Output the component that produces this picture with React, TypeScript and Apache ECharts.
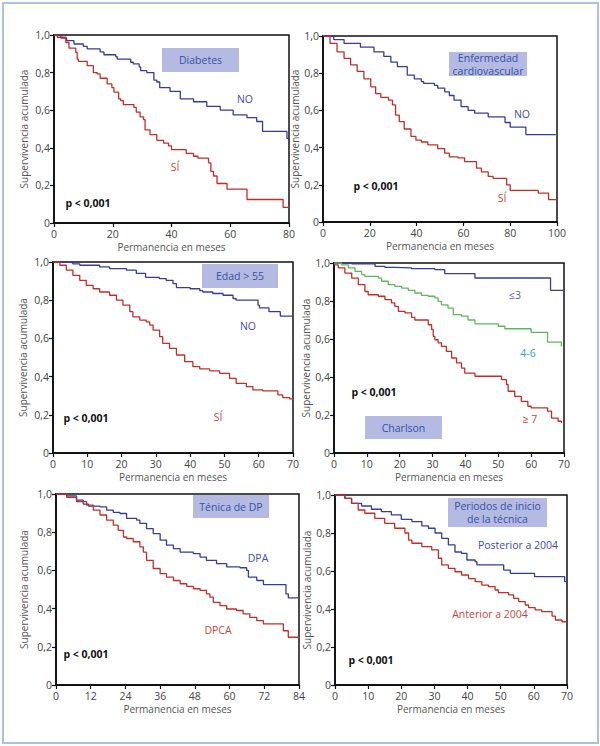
import React, { useEffect, useRef } from "react";
import * as echarts from "echarts";

// ---------- Data (Kaplan-Meier step curves) ----------
const diabNoT = [0, 2.3, 4.3, 6.8, 10, 11.3, 15.7, 17, 21, 21.5, 26.1, 27, 29, 29.5, 31.6, 34, 35, 36, 39.5, 43, 47.5, 52, 56.6, 61, 65.7, 69, 71, 79.3, 80];
const diabNoS = [1, 0.984, 0.97, 0.952, 0.94, 0.926, 0.91, 0.895, 0.885, 0.872, 0.855, 0.846, 0.83, 0.81, 0.8, 0.76, 0.75, 0.72, 0.7, 0.66, 0.645, 0.62, 0.6, 0.575, 0.56, 0.54, 0.487, 0.45, 0.45];
const diabSiT = [0, 1.1, 4, 5.1, 7.4, 7.9, 8.3, 11.3, 13.4, 14.7, 15.7, 18.1, 19.7, 20.4, 22, 22.7, 23.6, 27.2, 28, 29.3, 30.5, 31, 32.7, 35, 37.3, 39, 40, 45, 47.5, 49, 52.6, 53.4, 54.3, 55.5, 58.9, 65.7, 78, 80];
const diabSiS = [1, 0.988, 0.96, 0.93, 0.908, 0.872, 0.86, 0.837, 0.8, 0.793, 0.77, 0.74, 0.72, 0.696, 0.66, 0.651, 0.63, 0.615, 0.59, 0.565, 0.55, 0.495, 0.47, 0.44, 0.425, 0.41, 0.39, 0.37, 0.355, 0.345, 0.32, 0.275, 0.25, 0.21, 0.18, 0.125, 0.083, 0.083];

const cardNoT = [0, 4.6, 9, 16, 21.8, 26, 29, 31.8, 36, 39, 42, 43, 47.6, 49, 52, 54, 56, 59, 62, 64.8, 70.6, 77.8, 80, 86.7, 99.5];
const cardNoS = [1, 0.98, 0.96, 0.94, 0.915, 0.89, 0.86, 0.835, 0.79, 0.77, 0.755, 0.745, 0.735, 0.72, 0.7, 0.68, 0.655, 0.62, 0.6, 0.585, 0.565, 0.535, 0.51, 0.47, 0.47];
const cardSiT = [0, 3, 6, 9, 11.8, 14.6, 17.5, 20.4, 22.5, 24.7, 28, 29.7, 31, 32.6, 34.7, 37.6, 39.7, 42, 44.8, 49, 52, 54, 57.7, 60.5, 65.6, 67.7, 70.6, 72.7, 78.5, 80, 92, 96.4, 99.5];
const cardSiS = [1, 0.96, 0.915, 0.88, 0.845, 0.81, 0.77, 0.727, 0.69, 0.67, 0.655, 0.63, 0.575, 0.54, 0.5, 0.46, 0.44, 0.43, 0.415, 0.395, 0.37, 0.35, 0.345, 0.325, 0.29, 0.27, 0.245, 0.235, 0.2, 0.17, 0.155, 0.12, 0.12];

const edadNoT = [0, 3.9, 5.8, 7.8, 13.6, 16.5, 21.4, 24.3, 27, 31, 33, 35, 36, 40, 42.8, 43.7, 46.6, 49.6, 52.5, 53.4, 59.8, 60.2, 63, 66.3, 70];
const edadNoS = [1, 0.997, 0.99, 0.983, 0.974, 0.965, 0.957, 0.94, 0.92, 0.913, 0.904, 0.887, 0.866, 0.86, 0.85, 0.843, 0.835, 0.826, 0.809, 0.8, 0.774, 0.76, 0.74, 0.717, 0.717];
const edadSiT = [0, 2, 3.9, 5.8, 7.8, 9.7, 11.7, 13.6, 16.5, 18.5, 20.4, 22.4, 23.3, 25.3, 27.2, 28.2, 29.2, 31.1, 32, 34, 36, 38.4, 40.8, 42.8, 45.7, 48.6, 51.5, 53.4, 56.4, 58.3, 61.2, 65.6, 67, 69, 70];
const edadSiS = [1, 0.983, 0.957, 0.93, 0.904, 0.878, 0.86, 0.843, 0.826, 0.8, 0.774, 0.74, 0.713, 0.696, 0.687, 0.67, 0.643, 0.609, 0.574, 0.548, 0.513, 0.478, 0.452, 0.44, 0.43, 0.417, 0.391, 0.365, 0.348, 0.33, 0.325, 0.304, 0.29, 0.283, 0.275];

const charl3T = [0, 5.4, 12.5, 15.5, 18.5, 23.6, 30.7, 33.7, 42.9, 65.9, 69.7];
const charl3S = [1, 0.995, 0.982, 0.977, 0.974, 0.97, 0.965, 0.944, 0.921, 0.856, 0.856];
const charl46T = [0, 2.3, 4.4, 6.4, 8.4, 9.4, 13.5, 14.5, 16.5, 18.5, 20.6, 22.6, 24.6, 26.6, 28.7, 30.7, 31.7, 32.7, 34.7, 36.3, 38.8, 40.8, 42.9, 50, 52, 60, 65, 69.2];
const charl46S = [1, 0.99, 0.974, 0.956, 0.939, 0.93, 0.92, 0.904, 0.886, 0.877, 0.868, 0.856, 0.842, 0.83, 0.825, 0.816, 0.798, 0.78, 0.763, 0.728, 0.72, 0.7, 0.68, 0.667, 0.654, 0.635, 0.584, 0.56];
const charl7T = [0, 1.3, 3.3, 5.4, 7.4, 9.4, 10.4, 13.5, 15.5, 17.5, 18.5, 19.6, 21.6, 23.6, 24.6, 28.7, 29.7, 30.2, 30.7, 31.7, 32.7, 34.2, 35.8, 37.3, 38.8, 39.8, 42.9, 51, 52.5, 53, 55, 57, 59, 60, 65, 66.2, 68.2, 69.2];
const charl7S = [0.99, 0.974, 0.947, 0.92, 0.886, 0.85, 0.833, 0.825, 0.807, 0.79, 0.772, 0.745, 0.737, 0.714, 0.7, 0.675, 0.65, 0.614, 0.596, 0.58, 0.561, 0.535, 0.5, 0.474, 0.447, 0.42, 0.404, 0.386, 0.36, 0.325, 0.298, 0.272, 0.246, 0.237, 0.22, 0.184, 0.167, 0.158];

const dpaT = [0, 3.7, 7.1, 9.4, 11.2, 15.2, 17.5, 19.8, 22.1, 24.4, 27.9, 29, 31.3, 33.6, 36, 38.2, 40.6, 42.9, 47.5, 49.8, 52, 55.5, 59, 63.6, 65.9, 66.5, 69.4, 71.7, 79.5, 80.3, 84];
const dpaS = [1, 0.99, 0.968, 0.947, 0.937, 0.933, 0.916, 0.904, 0.898, 0.872, 0.863, 0.846, 0.819, 0.793, 0.758, 0.732, 0.714, 0.696, 0.688, 0.67, 0.653, 0.635, 0.618, 0.614, 0.6, 0.565, 0.547, 0.526, 0.477, 0.456, 0.456];
const dpcaT = [0, 3.7, 7.1, 10.6, 12.9, 15.2, 17.5, 19.8, 21.5, 23.3, 24.4, 26.7, 29, 30.2, 31.3, 33.6, 36, 38.2, 40.6, 42.9, 45.2, 47.5, 49.8, 52, 53.2, 54.4, 56.7, 59, 62.4, 64.7, 67, 69.4, 71.7, 78.6, 80.3, 84];
const dpcaS = [1, 0.983, 0.96, 0.942, 0.916, 0.89, 0.863, 0.837, 0.81, 0.775, 0.767, 0.75, 0.723, 0.696, 0.653, 0.61, 0.583, 0.565, 0.547, 0.53, 0.516, 0.504, 0.495, 0.477, 0.46, 0.433, 0.416, 0.398, 0.39, 0.372, 0.354, 0.337, 0.32, 0.284, 0.25, 0.25];

const postT = [0, 3, 5, 8, 11, 14, 17, 20, 23.2, 26.2, 28.2, 30.2, 32.2, 34.2, 36.2, 38.2, 39.8, 42.3, 42.8, 50.9, 52.9, 60.2, 69.3, 70];
const postS = [1, 0.982, 0.956, 0.942, 0.925, 0.912, 0.895, 0.872, 0.86, 0.837, 0.825, 0.8, 0.772, 0.737, 0.7, 0.693, 0.658, 0.649, 0.632, 0.605, 0.588, 0.57, 0.544, 0.544];
const antT = [0, 3, 5, 7, 9, 12, 15, 18, 21.1, 22.2, 23.2, 26.2, 29.2, 31.2, 32.2, 34.2, 36.2, 38.2, 40.3, 42.3, 44.3, 46.3, 48.3, 49.3, 52.4, 53.9, 55.4, 57.4, 58.4, 60.4, 62.4, 65.5, 66.5, 68.5, 70];
const antS = [1, 0.982, 0.956, 0.921, 0.904, 0.877, 0.851, 0.825, 0.8, 0.763, 0.746, 0.728, 0.711, 0.667, 0.632, 0.614, 0.596, 0.579, 0.56, 0.544, 0.526, 0.518, 0.5, 0.486, 0.474, 0.456, 0.439, 0.421, 0.407, 0.395, 0.386, 0.363, 0.342, 0.333, 0.333];

const yTicks = [0, 0.2, 0.4, 0.6, 0.8, 1.0];
const xAxisName = "Permanencia en meses";
const yAxisName = "Supervivencia acumulada";
const pLabel = "p < 0,001";

const BLUE = "#373c98";
const RED = "#c22e27";
const GREEN = "#5cb85c";
const FONT = "'Open Sans', 'Noto Sans', sans-serif";

type Curve = { t: number[]; s: number[]; color: string };
type Panel = {
  grid: { left: number; top: number; width: number; height: number };
  xMax: number;
  xInterval: number;
  yNameGap: number;
  curves: Curve[];
};

const panels: Panel[] = [
  {
    grid: { left: 54, top: 35, width: 235, height: 188 },
    xMax: 80, xInterval: 20, yNameGap: 25,
    curves: [
      { t: diabNoT, s: diabNoS, color: BLUE },
      { t: diabSiT, s: diabSiS, color: RED },
    ],
  },
  {
    grid: { left: 323, top: 36, width: 234, height: 186 },
    xMax: 100, xInterval: 20, yNameGap: 16,
    curves: [
      { t: cardNoT, s: cardNoS, color: BLUE },
      { t: cardSiT, s: cardSiS, color: RED },
    ],
  },
  {
    grid: { left: 53, top: 262, width: 240, height: 191 },
    xMax: 70, xInterval: 10, yNameGap: 25,
    curves: [
      { t: edadNoT, s: edadNoS, color: BLUE },
      { t: edadSiT, s: edadSiS, color: RED },
    ],
  },
  {
    grid: { left: 334, top: 263, width: 230, height: 190 },
    xMax: 70, xInterval: 10, yNameGap: 23,
    curves: [
      { t: charl3T, s: charl3S, color: BLUE },
      { t: charl46T, s: charl46S, color: GREEN },
      { t: charl7T, s: charl7S, color: RED },
    ],
  },
  {
    grid: { left: 56, top: 494, width: 243, height: 191 },
    xMax: 84, xInterval: 12, yNameGap: 27,
    curves: [
      { t: dpaT, s: dpaS, color: BLUE },
      { t: dpcaT, s: dpcaS, color: RED },
    ],
  },
  {
    grid: { left: 335, top: 495, width: 232, height: 190 },
    xMax: 70, xInterval: 10, yNameGap: 21,
    curves: [
      { t: postT, s: postS, color: BLUE },
      { t: antT, s: antS, color: RED },
    ],
  },
];

function titleBox(x: number, y: number, w: number, h: number, text: string) {
  return {
    type: "group",
    children: [
      { type: "rect", shape: { x, y, width: w, height: h }, style: { fill: "#b5bae3" } },
      {
        type: "text",
        x: x + w / 2,
        y: y + h / 2,
        style: {
          text,
          fill: "#3452a4",
          font: `10.5px ${FONT}`,
          align: "center",
          verticalAlign: "middle",
          lineHeight: 13,
        },
      },
    ],
  };
}

function label(x: number, y: number, text: string, color: string, bold = false) {
  return {
    type: "text",
    x,
    y,
    style: {
      text,
      fill: color,
      font: `${bold ? "bold " : ""}10.5px ${FONT}`,
      align: "center",
      verticalAlign: "middle",
    },
  };
}

export default function App() {
  const ref = useRef<HTMLDivElement>(null);
  useEffect(() => {
    document.body.style.margin = "0";
    if (!ref.current) return;
    const chart = echarts.init(ref.current, undefined, { renderer: "svg" });

    const grids = panels.map((p) => ({
      ...p.grid,
      show: true,
      borderColor: "#111",
      borderWidth: 1.5,
      containLabel: false,
    }));
    const xAxes = panels.map((p, i) => ({
      type: "value",
      gridIndex: i,
      min: 0,
      max: p.xMax,
      interval: p.xInterval,
      name: xAxisName,
      nameLocation: "middle",
      nameGap: 19,
      nameTextStyle: { color: "#555", fontSize: 10, fontFamily: FONT },
      axisLine: { show: true, lineStyle: { color: "#111", width: 1.8 } },
      axisTick: { show: true, inside: false, length: 4, lineStyle: { color: "#111", width: 1.2 } },
      axisLabel: { color: "#444", fontSize: 10.5, fontFamily: FONT, margin: 5 },
      splitLine: { show: false },
    }));
    const yAxes = panels.map((p, i) => ({
      type: "value",
      gridIndex: i,
      min: 0,
      max: 1,
      interval: 0.2,
      name: yAxisName,
      nameLocation: "middle",
      nameRotate: 90,
      nameGap: p.yNameGap,
      nameTextStyle: { color: "#555", fontSize: 10, fontFamily: FONT },
      axisLine: { show: true, lineStyle: { color: "#111", width: 1.8 } },
      axisTick: { show: true, inside: false, length: 4, lineStyle: { color: "#111", width: 1.2 } },
      axisLabel: {
        color: "#444",
        fontSize: 10.5,
        fontFamily: FONT,
        margin: 4,
        formatter: (v: number) =>
          yTicks.includes(Math.round(v * 10) / 10)
            ? v === 0
              ? "0"
              : v.toFixed(1).replace(".", ",")
            : "",
      },
      splitLine: { show: false },
    }));
    const series: any[] = [];
    panels.forEach((p, i) => {
      p.curves.forEach((c) => {
        series.push({
          type: "line",
          xAxisIndex: i,
          yAxisIndex: i,
          step: "end",
          showSymbol: false,
          data: c.t.map((t, k) => [t, c.s[k]]),
          lineStyle: { color: c.color, width: 1.3 },
          itemStyle: { color: c.color },
          z: 3,
        });
      });
    });

    const graphic: any[] = [
      {
        type: "rect",
        shape: { x: 3, y: 3, width: 595, height: 740 },
        style: { fill: "none", stroke: "#a9c2e2", lineWidth: 2 },
        silent: true,
      },
      // panel 1
      titleBox(162, 48, 77, 24, "Diabetes"),
      label(245, 99, "NO", "#3f4ca6"),
      label(175, 167, "SÍ", "#c0453f"),
      label(88, 203, pLabel, "#111", true),
      // panel 2
      titleBox(449, 52, 78, 24, "Enfermedad\ncardiovascular"),
      label(522, 114, "NO", "#3f4ca6"),
      label(502, 198, "SÍ", "#c0453f"),
      label(376, 186, pLabel, "#111", true),
      // panel 3
      titleBox(202, 264, 76, 24, "Edad > 55"),
      label(248, 326, "NO", "#3f4ca6"),
      label(218, 417, "SÍ", "#c0453f"),
      label(86, 418, pLabel, "#111", true),
      // panel 4
      titleBox(365, 416, 77, 23, "Charlson"),
      label(515, 295, "≤3", "#4f5fb0"),
      label(528, 353, "4-6", "#2fa3bd"),
      label(530, 419, "≥ 7", "#c0453f"),
      label(374, 392, pLabel, "#111", true),
      // panel 5
      titleBox(193, 495, 76, 23, "Ténica de DP"),
      label(258, 558, "DPA", "#3f4ca6"),
      label(218, 630, "DPCA", "#c0453f"),
      label(86, 654, pLabel, "#111", true),
      // panel 6
      titleBox(448, 498, 99, 29, "Periodos de inicio\nde la técnica"),
      label(518, 545, "Posterior a 2004", "#3f4ca6"),
      label(490, 614, "Anterior a 2004", "#c0453f"),
      label(371, 660, pLabel, "#111", true),
    ];

    chart.setOption({
      animation: false,
      backgroundColor: "#ffffff",
      textStyle: { fontFamily: FONT },
      grid: grids,
      xAxis: xAxes,
      yAxis: yAxes,
      series,
      graphic,
    });
    return () => chart.dispose();
  }, []);
  return <div ref={ref} style={{ width: 600, height: 746 }} />;
}
